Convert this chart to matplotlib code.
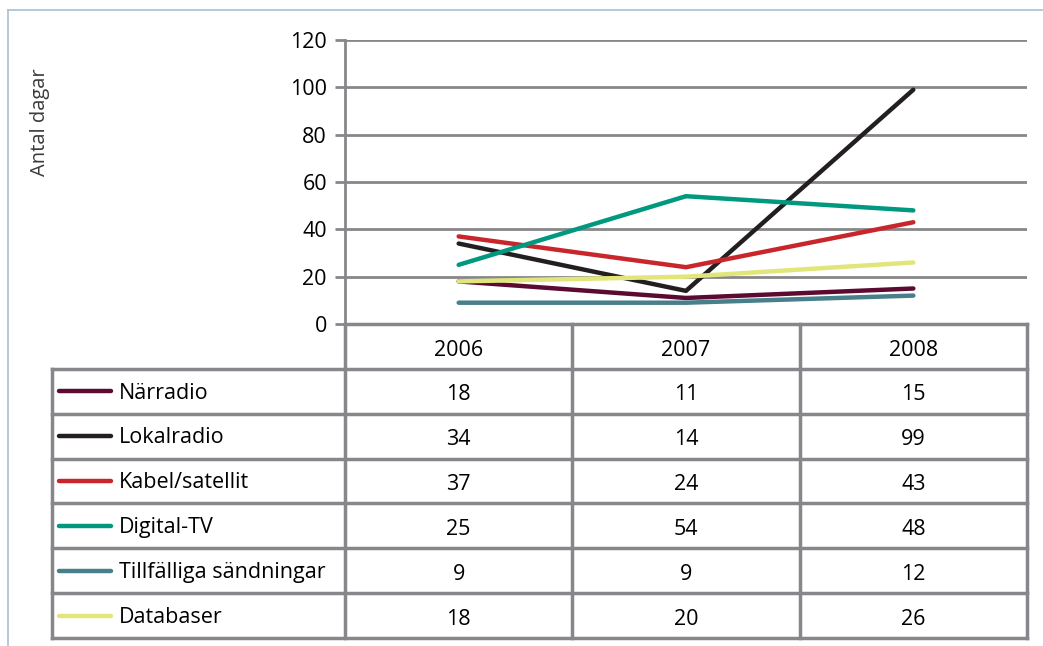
import matplotlib.pyplot as plt
from matplotlib.lines import Line2D

years = ['2006', '2007', '2008']
series_names = ['Närradio', 'Lokalradio', 'Kabel/satellit', 'Digital-TV',
                'Tillfälliga sändningar', 'Databaser']
narradio = [18, 11, 15]
lokalradio = [34, 14, 99]
kabel = [37, 24, 43]
digital_tv = [25, 54, 48]
tillfalliga = [9, 9, 12]
databaser = [18, 20, 26]
series_values = [narradio, lokalradio, kabel, digital_tv, tillfalliga, databaser]
colors = ['#5c0a32', '#231f20', '#c8262a', '#00987f', '#477f8a', '#e2e67a']
yticks = [0, 20, 40, 60, 80, 100, 120]

plt.rcParams['font.family'] = ['Open Sans', 'DejaVu Sans']
fs = 15.5
grid_col = '#87878b'
W, H = 1043, 646
fig = plt.figure(figsize=(W / 100, H / 100), dpi=100)

# outer frame (light blue, only left/top visible)
fig.add_artist(Line2D([8 / W, 8 / W], [0, 1 - 10 / H], color='#a9c0d3', lw=1.2))
fig.add_artist(Line2D([8 / W, 1], [1 - 10 / H, 1 - 10 / H], color='#a9c0d3', lw=1.2))

# line plot
x0, x1 = 345, 1027
ax = fig.add_axes([x0 / W, 1 - 324 / H, (x1 - x0) / W, (324 - 40) / H])
xs = [0.5, 1.5, 2.5]
for vals, c in zip(series_values, colors):
    ax.plot(xs, vals, color=c, lw=3.2, solid_capstyle='round', zorder=3)
ax.set_xlim(0, 3)
ax.set_ylim(0, 120)
ax.set_yticks(yticks)
ax.set_xticks([])
ax.grid(axis='y', color=grid_col, lw=2)
for s in ['top', 'right', 'bottom']:
    ax.spines[s].set_visible(False)
ax.spines['left'].set_color(grid_col)
ax.spines['left'].set_linewidth(2)
ax.tick_params(axis='y', length=7, width=2, color=grid_col, labelsize=fs, pad=6)
ax.set_facecolor('none')
fig.text(40 / W, 1 - 122 / H, 'Antal dagar', rotation=90, ha='center', va='center',
         fontsize=14.5, color='#3a3a3a')

# data table
tx0 = 52
left_w = (x0 - tx0) / ((x1 - x0) / 3)
tab = fig.add_axes([tx0 / W, 1 - 638 / H, (x1 - tx0) / W, (638 - 324) / H])
tab.set_xlim(-left_w, 3)
tab.set_ylim(7, 0)
tab.axis('off')
nrows = len(series_names) + 1
# horizontal lines
tab.plot([0, 3], [0, 0], color=grid_col, lw=2.5, clip_on=False)
for r in range(1, nrows + 1):
    tab.plot([-left_w, 3], [r, r], color=grid_col, lw=2.5, clip_on=False)
# vertical lines
tab.plot([-left_w, -left_w], [1, nrows], color=grid_col, lw=2.5, clip_on=False)
for c in range(0, 4):
    tab.plot([c, c], [0, nrows], color=grid_col, lw=2.5, clip_on=False)

for i, yr in enumerate(years):
    tab.text(i + 0.5, 0.6, yr, ha='center', va='center', fontsize=fs)
for r, (name, vals, c) in enumerate(zip(series_names, series_values, colors)):
    y = r + 1.5
    sx = -left_w + 0.03
    tab.plot([sx, sx + 0.23], [y, y], color=c, lw=3.2, solid_capstyle='round')
    tab.text(sx + 0.265, y + 0.04, name, ha='left', va='center', fontsize=fs)
    for i, v in enumerate(vals):
        tab.text(i + 0.5, y + 0.08, str(v), ha='center', va='center', fontsize=fs)

fig.savefig('out.png', dpi=100)
